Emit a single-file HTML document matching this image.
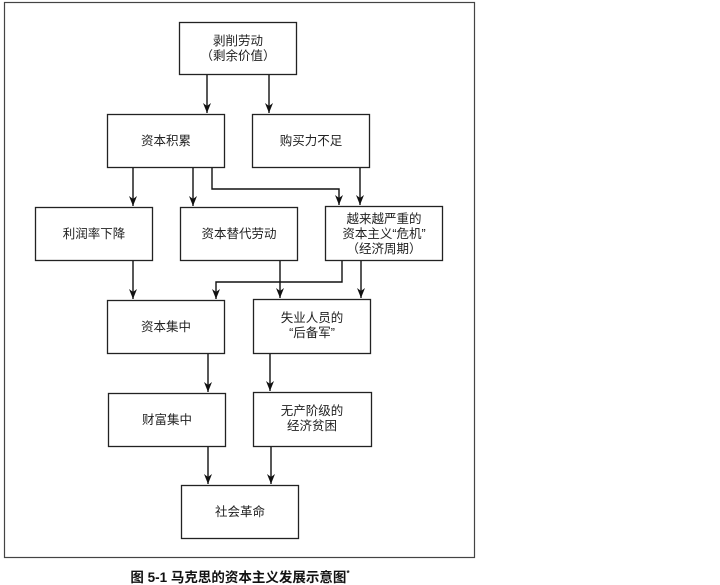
<!DOCTYPE html>
<html><head><meta charset="utf-8"><style>
html,body{margin:0;padding:0;background:#fff;}
svg{display:block;}
text{font-family:"Liberation Sans","Noto Sans CJK SC",sans-serif;font-size:12.5px;fill:#222;text-anchor:middle;}
</style></head><body>
<svg width="720" height="585" viewBox="0 0 720 585" xmlns="http://www.w3.org/2000/svg">
<defs><marker id="a" markerWidth="10" markerHeight="8" refX="10" refY="4" orient="auto" markerUnits="userSpaceOnUse"><path d="M0,0 L10,4 L0,8 L3,4 Z" fill="#111"/></marker></defs>
<rect x="4.5" y="2.5" width="470" height="555" fill="none" stroke="#444" stroke-width="1.2"/>
<g fill="#fff" stroke="#222" stroke-width="1.3">
<rect x="179.5" y="22.5" width="117" height="52"/>
<rect x="107.5" y="114.5" width="117" height="53"/>
<rect x="252.5" y="114.5" width="117" height="53"/>
<rect x="35.5" y="207.5" width="117" height="53"/>
<rect x="180.5" y="207.5" width="117" height="53"/>
<rect x="325.5" y="206.5" width="117" height="54"/>
<rect x="107.5" y="300.5" width="117" height="53"/>
<rect x="253.5" y="299.5" width="117" height="54"/>
<rect x="108.5" y="393.5" width="117" height="53"/>
<rect x="253.5" y="392.5" width="118" height="54"/>
<rect x="181.5" y="485.5" width="117" height="53"/>
</g>
<g stroke="#111" stroke-width="1.4" fill="none" marker-end="url(#a)">
<path d="M207,75 V113"/><path d="M269,75 V113"/>
<path d="M133,168 V206"/><path d="M193,168 V206"/>
<path d="M212,168 V189 H339 V205"/><path d="M360,168 V205"/>
<path d="M133,261 V299"/><path d="M342,261 V282 H216 V299"/>
<path d="M280,261 V298"/><path d="M361,261 V298"/>
<path d="M208,354 V392"/><path d="M270,354 V391"/>
<path d="M208,447 V484"/><path d="M271,447 V484"/>
</g>
<text x="238" y="45">剥削劳动</text><text x="238" y="60">（剩余价值）</text>
<text x="166" y="145">资本积累</text>
<text x="311" y="145">购买力不足</text>
<text x="94" y="238">利润率下降</text>
<text x="239" y="238">资本替代劳动</text>
<text x="384" y="223">越来越严重的</text><text x="384" y="238">资本主义“危机”</text><text x="384" y="253">（经济周期）</text>
<text x="166" y="331">资本集中</text>
<text x="312" y="322">失业人员的</text><text x="312" y="337">“后备军”</text>
<text x="167" y="424">财富集中</text>
<text x="312" y="415">无产阶级的</text><text x="312" y="430">经济贫困</text>
<text x="240" y="516">社会革命</text>
<text x="240" y="582" style="font-weight:bold;font-size:13.5px;fill:#111">图 5-1 马克思的资本主义发展示意图<tspan dy="-6" style="font-size:8px">*</tspan></text>
</svg>
</body></html>
